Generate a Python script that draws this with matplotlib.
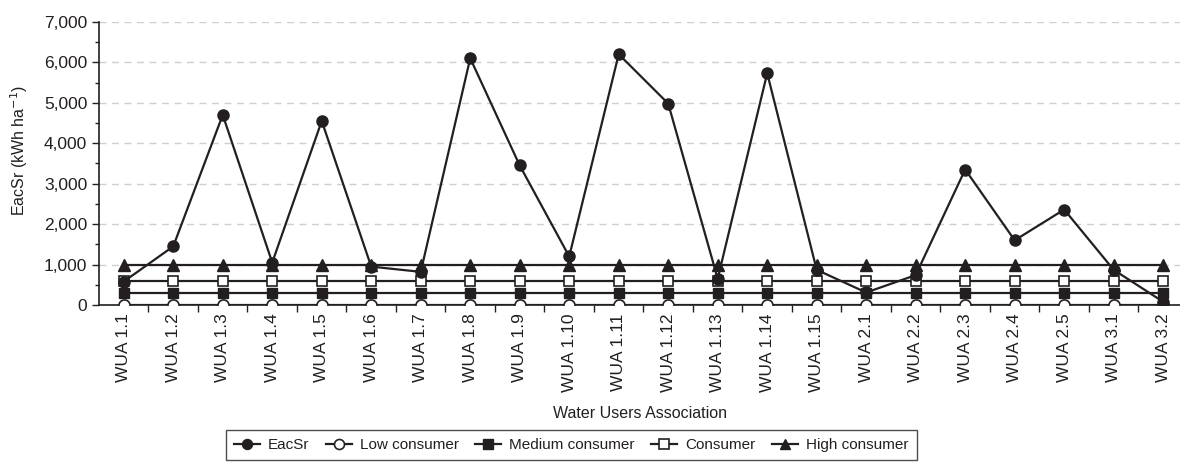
import matplotlib
matplotlib.use("Agg")
import matplotlib.pyplot as plt
from matplotlib.ticker import FuncFormatter, MultipleLocator

plt.rcParams['font.family'] = ['Liberation Sans', 'DejaVu Sans']

# Asociaciones de regantes
wua = ["WUA 1.1", "WUA 1.2", "WUA 1.3", "WUA 1.4", "WUA 1.5", "WUA 1.6",
       "WUA 1.7", "WUA 1.8", "WUA 1.9", "WUA 1.10", "WUA 1.11", "WUA 1.12",
       "WUA 1.13", "WUA 1.14", "WUA 1.15", "WUA 2.1", "WUA 2.2", "WUA 2.3",
       "WUA 2.4", "WUA 2.5", "WUA 3.1", "WUA 3.2"]

# Energía por superficie regada (kWh/ha)
eacsr = [580, 1450, 4700, 1050, 4550, 950, 820, 6100, 3450, 1200, 6200,
         4980, 650, 5730, 870, 310, 740, 3350, 1600, 2360, 870, 80]

# Umbrales de consumo
low_consumer = [0] * len(wua)
medium_consumer = [300] * len(wua)
consumer = [600] * len(wua)
high_consumer = [1000] * len(wua)

color = "#231f20"
x = list(range(len(wua)))

fig = plt.figure(figsize=(11.8, 4.65), dpi=100)
ax = fig.add_axes([0.0839, 0.344, 0.9161, 0.609])

ax.plot(x, eacsr, color=color, lw=1.6, marker='o', ms=8, mfc=color,
        mec=color, label="EacSr", zorder=6)
ax.plot(x, low_consumer, color=color, lw=1.6, marker='o', ms=8, mfc='white',
        mec=color, mew=1.2, label="Low consumer", zorder=3)
ax.plot(x, medium_consumer, color=color, lw=1.6, marker='s', ms=7.5, mfc=color,
        mec=color, label="Medium consumer", zorder=3)
ax.plot(x, consumer, color=color, lw=1.6, marker='s', ms=7.5, mfc='white',
        mec=color, mew=1.2, label="Consumer", zorder=3)
ax.plot(x, high_consumer, color=color, lw=1.6, marker='^', ms=8, mfc=color,
        mec=color, label="High consumer", zorder=3)

ax.set_xlim(-0.5, 21.34)
ax.set_ylim(0, 7000)

ax.set_xticks(x)
ax.set_xticklabels(wua, rotation=90, fontsize=12.5, color=color)
ax.set_xticks([i + 0.5 for i in x[:-1]], minor=True)
ax.tick_params(axis='x', which='major', length=0, pad=6)
ax.tick_params(axis='x', which='minor', length=5, width=1, color=color)

ax.yaxis.set_major_locator(MultipleLocator(1000))
ax.yaxis.set_minor_locator(MultipleLocator(500))
ax.yaxis.set_major_formatter(FuncFormatter(lambda v, p: f"{int(v):,}"))
ax.tick_params(axis='y', which='major', length=5, width=1, color=color,
               labelsize=12.5, labelcolor=color)
ax.tick_params(axis='y', which='minor', length=3, width=1, color=color)

ax.grid(axis='y', which='major', color='#cfcfcf', linestyle=(0, (5, 4)), lw=1)
ax.set_axisbelow(True)

for s in ['top', 'right']:
    ax.spines[s].set_visible(False)
for s in ['left', 'bottom']:
    ax.spines[s].set_color(color)
    ax.spines[s].set_linewidth(1.2)

ax.set_ylabel("EacSr (kWh ha$^{-1}$)", fontsize=11.5, color=color)
ax.yaxis.set_label_coords(-0.064, 0.545)
ax.set_xlabel("Water Users Association", fontsize=11.5, color=color,
              labelpad=10)

leg = fig.legend(loc='center', bbox_to_anchor=(0.484, 0.043), ncol=5,
                 fontsize=11, frameon=True, fancybox=False, handlelength=1.7,
                 columnspacing=1.1, handletextpad=0.5, borderpad=0.55,
                 markerscale=0.9)
leg.get_frame().set_edgecolor(color)
leg.get_frame().set_linewidth(1.0)
for t in leg.get_texts():
    t.set_color(color)

fig.savefig("out.png", dpi=100)
